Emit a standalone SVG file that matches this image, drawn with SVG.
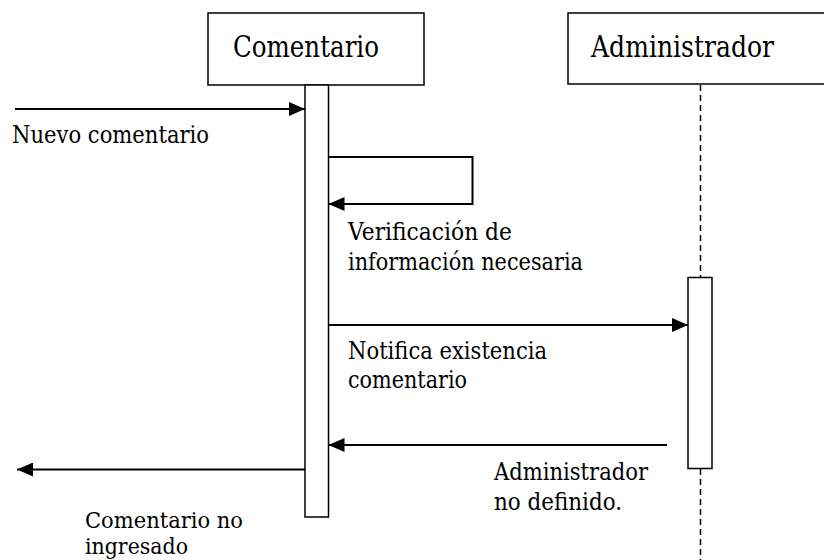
<svg xmlns="http://www.w3.org/2000/svg" width="824" height="560" viewBox="0 0 824 560">
<style>
text{font-family:"DejaVu Serif","Liberation Serif",serif;fill:#000}
.hdr{font-size:30px}
.lbl{font-size:25px}
.sm{font-size:22px}
.box{fill:#fff;stroke:#000;stroke-width:1.5}
.msg{fill:none;stroke:#000;stroke-width:2}
.life{stroke:#000;stroke-width:1.5;stroke-dasharray:6 4;fill:none}
</style>
<defs>
<marker id="ah" viewBox="0 0 16 14" refX="16" refY="7" markerWidth="16" markerHeight="14" markerUnits="userSpaceOnUse" orient="auto">
<path d="M0,0 L16,7 L0,14 Z" fill="#000"/>
</marker>
</defs>
<rect width="824" height="560" fill="#fff"/>
<g id="lifelines">
<line class="life" x1="700.5" y1="85" x2="700.5" y2="277"/>
<line class="life" x1="700.5" y1="469" x2="700.5" y2="560"/>
</g>
<g id="comentario">
<rect class="box" x="208" y="13" width="216" height="72"/>
<text class="hdr" x="233" y="57" textLength="146" lengthAdjust="spacingAndGlyphs">Comentario</text>
<rect class="box" x="305" y="85" width="23.5" height="432"/>
</g>
<g id="administrador">
<rect class="box" x="568" y="13" width="270" height="71"/>
<text class="hdr" x="591" y="57" textLength="183" lengthAdjust="spacingAndGlyphs">Administrador</text>
<rect class="box" x="688" y="277.5" width="24" height="191"/>
</g>
<g id="connectors">
<line class="msg" x1="15" y1="109" x2="305" y2="109" marker-end="url(#ah)"/>
<polyline class="msg" points="328.5,157 472.5,157 472.5,204 328.5,204" marker-end="url(#ah)"/>
<line class="msg" x1="328.5" y1="325" x2="688" y2="325" marker-end="url(#ah)"/>
<line class="msg" x1="667" y1="445" x2="328.5" y2="445" marker-end="url(#ah)"/>
<line class="msg" x1="305" y1="469.5" x2="17" y2="469.5" marker-end="url(#ah)"/>
</g>
<g id="labels">
<text class="lbl" x="12" y="143" textLength="197" lengthAdjust="spacingAndGlyphs">Nuevo comentario</text>
<text class="lbl" x="348" y="240" textLength="164" lengthAdjust="spacingAndGlyphs">Verificación de</text>
<text class="lbl" x="348" y="270" textLength="235" lengthAdjust="spacingAndGlyphs">información necesaria</text>
<text class="lbl" x="348" y="359" textLength="199" lengthAdjust="spacingAndGlyphs">Notifica existencia</text>
<text class="lbl" x="348" y="388" textLength="119" lengthAdjust="spacingAndGlyphs">comentario</text>
<text class="lbl" x="494" y="480" textLength="154" lengthAdjust="spacingAndGlyphs">Administrador</text>
<text class="lbl" x="494" y="510" textLength="128" lengthAdjust="spacingAndGlyphs">no definido.</text>
<text class="sm" x="85" y="528" textLength="158" lengthAdjust="spacingAndGlyphs">Comentario no</text>
<text class="sm" x="85" y="554" textLength="103" lengthAdjust="spacingAndGlyphs">ingresado</text>
</g>
</svg>
